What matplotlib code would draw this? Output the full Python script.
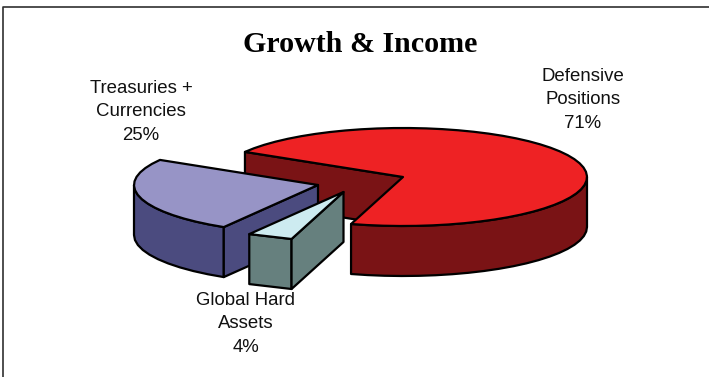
from matplotlib import pyplot as plt
from matplotlib.patches import Polygon
import numpy as np

slice_names = ['Defensive\nPositions\n71%', 'Treasuries +\nCurrencies\n25%', 'Global Hard\nAssets\n4%']
slice_values = [71, 25, 4]
top_colors = ['#ee2224', '#9794c6', '#cdebf0']
side_colors = ['#7a1315', '#4b4b7f', '#66807e']

# pie centre of each slice in pixels, the last two are pulled out
centres = [(403, 177), (318, 185), (343.5, 192)]
label_pos = [(583, 100), (141, 112), (246, 324)]

RX, RY, DEPTH = 184, 49, 50
START = 253.6  # parameter angle where the red slice begins


def rim(centre, a0, a1):
    t = np.radians(np.linspace(a0, a1, max(int(abs(a1 - a0) / 5), 2)))
    return np.column_stack((centre[0] + RX * np.cos(t), centre[1] - RY * np.sin(t)))


def add_poly(ax, pts, color):
    ax.add_patch(Polygon(pts, closed=True, facecolor=color, edgecolor='black',
                         linewidth=1.6, joinstyle='round'))


def wall(ax, centre, a0, a1, color):
    edge = rim(centre, a0, a1)
    add_poly(ax, np.vstack((edge, (edge + [0, DEPTH])[::-1])), color)


def cut_face(ax, centre, angle, color):
    p = rim(centre, angle, angle + 1)[0]
    c = np.array(centre)
    add_poly(ax, [c, p, p + [0, DEPTH], c + [0, DEPTH]], color)


def top_face(ax, centre, a0, a1, color):
    add_poly(ax, np.vstack(([centre], rim(centre, a0, a1))), color)


fig = plt.figure(figsize=(7.09, 3.77), dpi=100)
ax = fig.add_axes([0, 0, 1, 1])
ax.set_xlim(0, 709)
ax.set_ylim(377, 0)
ax.axis('off')

# frame of the chart area, only left and top are inside the canvas
ax.plot([2.5, 2.5, 709], [377, 6.5, 6.5], color='#303030', linewidth=1.2)

spans = np.array(slice_values) * 3.6
red_end = START + spans[0] - 360
blue_end = red_end + spans[1]
green_end = blue_end + spans[2]

# red slice: inner face, outer wall, then the top hides what it must
cut_face(ax, centres[0], red_end, side_colors[0])
wall(ax, centres[0], START, 360, side_colors[0])
top_face(ax, centres[0], START, START + spans[0], top_colors[0])

# blue slice
wall(ax, centres[1], 180, blue_end, side_colors[1])
cut_face(ax, centres[1], blue_end, side_colors[1])
top_face(ax, centres[1], red_end, blue_end, top_colors[1])

# small slice in front
wall(ax, centres[2], blue_end, green_end, side_colors[2])
cut_face(ax, centres[2], green_end, side_colors[2])
top_face(ax, centres[2], blue_end, green_end, top_colors[2])

for name, pos in zip(slice_names, label_pos):
    ax.text(pos[0], pos[1], name, ha='center', va='center', fontsize=13.4,
            family='Liberation Sans', linespacing=1.52, color='#111111')

ax.text(360, 44.5, 'Growth & Income', ha='center', va='center', fontsize=21.6,
        family='Liberation Serif', fontweight='bold')

fig.savefig('out.png', dpi=100)
